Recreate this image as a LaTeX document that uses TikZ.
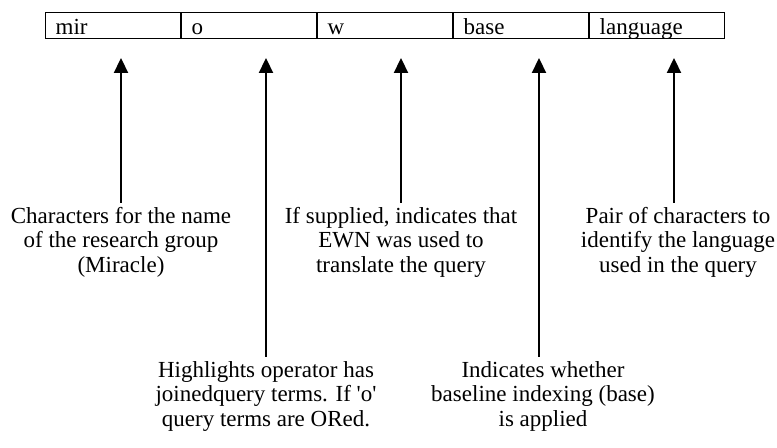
\documentclass[tikz,border=0pt]{standalone}
\usepackage{fontspec}
\setmainfont{Liberation Serif}
\usetikzlibrary{arrows.meta}
\begin{document}
\begin{tikzpicture}[
        x=0.5pt, y=-0.5pt,
        cell/.style={draw, line width=0.7pt, anchor=north west, minimum width=67.3pt, minimum height=13pt,
            text width=57.3pt, align=left, inner xsep=5pt, inner ysep=0.5pt, text height=10.5pt, text depth=1.5pt},
        desc/.style={align=center, inner sep=0pt, anchor=north},
        arrow/.style={-{Triangle[width=7pt, length=7.5pt]}, line width=1.1pt, shorten <=2pt}
    ]
        \useasboundingbox (0,0) rectangle (777,448);
        \fontsize{11.5}{12.2}\selectfont
        % Query name fields
        \node[cell] (mir) at (45,12) {mir};
        \node[cell] (op) at (mir.north east) {o};
        \node[cell] (ewn) at (op.north east) {w};
        \node[cell] (base) at (ewn.north east) {base};
        \node[cell] (lang) at (base.north east) {language};

        % Meaning of each field
        \node[desc] (dmir) at (121,207) {Characters for the name\\of the research group\\(Miracle)};
        \node[desc] (dop) at (266,361) {Highlights operator has\\joinedquery terms. If \textquotesingle o\textquotesingle\\query terms are ORed.};
        \node[desc] (dewn) at (401,207) {If supplied, indicates that\\EWN was used to\\translate the query};
        \node[desc] (dbase) at (543,361) {Indicates whether\\baseline indexing (base)\\is applied};
        \node[desc] (dlang) at (678,207) {Pair of characters to\\identify the language\\used in the query};

        \coordinate (tmir) at (121,58);
        \coordinate (top) at (266,58);
        \coordinate (tewn) at (401,58);
        \coordinate (tbase) at (539,58);
        \coordinate (tlang) at (674,58);

        \draw[arrow] (dmir.north -| tmir) -- (tmir);
        \draw[arrow] (dop.north -| top) -- (top);
        \draw[arrow] (dewn.north -| tewn) -- (tewn);
        \draw[arrow] (dbase.north -| tbase) -- (tbase);
        \draw[arrow] (dlang.north -| tlang) -- (tlang);
    \end{tikzpicture}
\end{document}
